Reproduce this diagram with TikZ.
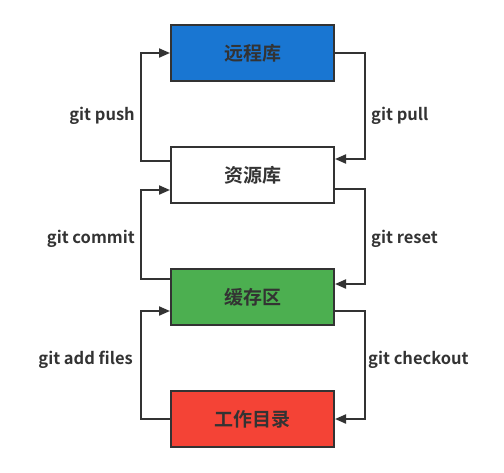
\documentclass[tikz,border=0pt]{standalone}
\usepackage{fontspec}
\setmainfont{Noto Sans CJK SC}[BoldFont={Noto Sans CJK SC Bold}]
\usetikzlibrary{arrows.meta}
\definecolor{lineclr}{HTML}{333333}
\definecolor{blueclr}{HTML}{1976D2}
\definecolor{greenclr}{HTML}{4CAF50}
\definecolor{redclr}{HTML}{F44336}
\begin{document}
\begin{tikzpicture}[x=1pt,y=-1pt,
  box/.style={draw=lineclr,line width=2pt,minimum width=163pt,minimum height=56pt,inner sep=0pt,text=lineclr,font=\fontsize{19}{21}\selectfont\bfseries},
  conn/.style={draw=lineclr,line width=2pt,-{Triangle[length=11pt,width=9pt]}},
  lbl/.style={text=lineclr,font=\fontsize{16.5}{18}\selectfont\bfseries,inner sep=0pt}]
\useasboundingbox (0,0) rectangle (504,472);
\node[box,fill=blueclr] (remote) at (252.5,53) {远程库};
\node[box,fill=white] (repo) at (252.5,175) {资源库};
\node[box,fill=greenclr] (stage) at (252.5,297) {缓存区};
\node[box,fill=redclr] (work) at (252.5,419) {工作目录};
\coordinate (L) at (141,0);
\coordinate (R) at (365,0);
% git push
\draw[conn] ([yshift=14pt]repo.west) -- ([yshift=14pt]repo.west -| L) |- (remote.west);
% git pull
\draw[conn] (remote.east) -| ([yshift=16pt]repo.east -| R) -- ([yshift=16pt]repo.east);
% git commit
\draw[conn] ([yshift=18pt]stage.west) -- ([yshift=18pt]stage.west -| L) |- ([yshift=-15pt]repo.west);
% git reset
\draw[conn] ([yshift=-14pt]repo.east) -- ([yshift=-14pt]repo.east -| R) |- ([yshift=13pt]stage.east);
% git add files
\draw[conn] (work.west) -- (work.west -| L) |- ([yshift=-14pt]stage.west);
% git checkout
\draw[conn] ([yshift=-14pt]stage.east) -- ([yshift=-14pt]stage.east -| R) |- (work.east);
\node[lbl,anchor=east] (l1) at (135,116) {git push};
\node[lbl,anchor=east] (l2) at (135,239) {git commit};
\node[lbl,anchor=east] (l3) at (133,360) {git add files};
\node[lbl,anchor=west] (r1) at (371,116) {git pull};
\node[lbl,anchor=west] (r2) at (371,239) {git reset};
\node[lbl,anchor=west] (r3) at (368,360) {git checkout};
\end{tikzpicture}
\end{document}
